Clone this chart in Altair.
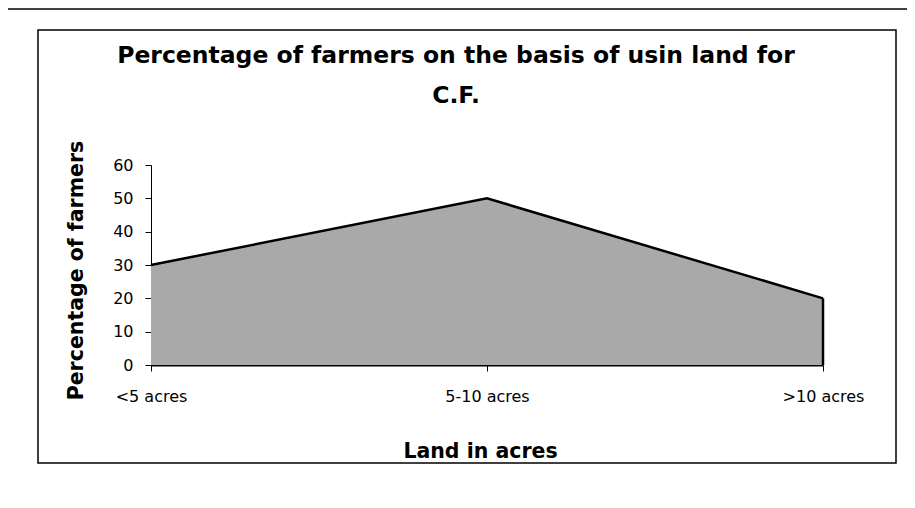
import altair as alt
import pandas as pd

categories = ["<5 acres", "5-10 acres", ">10 acres"]
percent = [30, 50, 20]
y_ticks = [0, 10, 20, 30, 40, 50, 60]

df = pd.DataFrame({"land": categories, "pct": percent})
FONT = "DejaVu Sans"

x_axis = alt.Axis(
    title="Land in acres", labelAngle=0, labelFont=FONT, labelFontSize=16,
    labelColor="black", labelPadding=17, tickColor="black", tickSize=6,
    domainColor="black", domainWidth=2, titleFont=FONT, titleFontSize=20.5,
    titleFontWeight="bold", titleColor="black", titlePadding=37, titleX=329,
    grid=False,
)
y_axis = alt.Axis(
    title="Percentage of farmers", values=y_ticks, labelFont=FONT, labelFontSize=16,
    labelColor="black", labelPadding=12, tickColor="black", tickSize=6,
    domainColor="black", titleFont=FONT, titleFontSize=20.5, titleFontWeight="bold",
    titleColor="black", titlePadding=26, titleY=105, grid=False,
)

xenc = alt.X("land:N", sort=categories, scale=alt.Scale(type="point", padding=0), axis=x_axis)
yenc = alt.Y("pct:Q", scale=alt.Scale(domain=[0, 60], nice=False), axis=y_axis)

base = alt.Chart(df)
area = base.mark_area(color="#a9a9a9", opacity=1).encode(x=xenc, y=yenc)
line = base.mark_line(color="black", strokeWidth=2.5).encode(x=xenc, y=yenc)
edge = base.transform_filter(alt.datum.land == ">10 acres").mark_rule(
    color="black", strokeWidth=2.5
).encode(x=xenc, y=yenc, y2=alt.datum(0))

one = alt.Chart(pd.DataFrame({"a": [0]}))
inner_box = one.mark_rect(fill=None, stroke="black", strokeWidth=1.5).encode(
    x=alt.value(-113), x2=alt.value(745), y=alt.value(-135), y2=alt.value(298)
)
outer_top = one.mark_rule(color="black", strokeWidth=1.5).encode(
    x=alt.value(-144), x2=alt.value(760), y=alt.value(-156)
)
outer_left = one.mark_rule(color="black", strokeWidth=1.5).encode(
    x=alt.value(-144), y=alt.value(-156), y2=alt.value(340)
)

chart = alt.layer(outer_top, outer_left, inner_box, area, line, edge).properties(
    width=672, height=200,
    title=alt.TitleParams(
        text=["Percentage of farmers on the basis of usin land for", "C.F."],
        font=FONT, fontSize=23.5, fontWeight="bold", color="black",
        lineHeight=40, anchor="middle", dx=-31, offset=0, dy=99,
    ),
    autosize=alt.AutoSizeParams(type="none"),
    padding={"left": 143, "top": 157, "right": 84, "bottom": 135},
).configure_view(strokeWidth=0)

chart.save("out.html", embed_options={"renderer": "svg", "actions": False})
